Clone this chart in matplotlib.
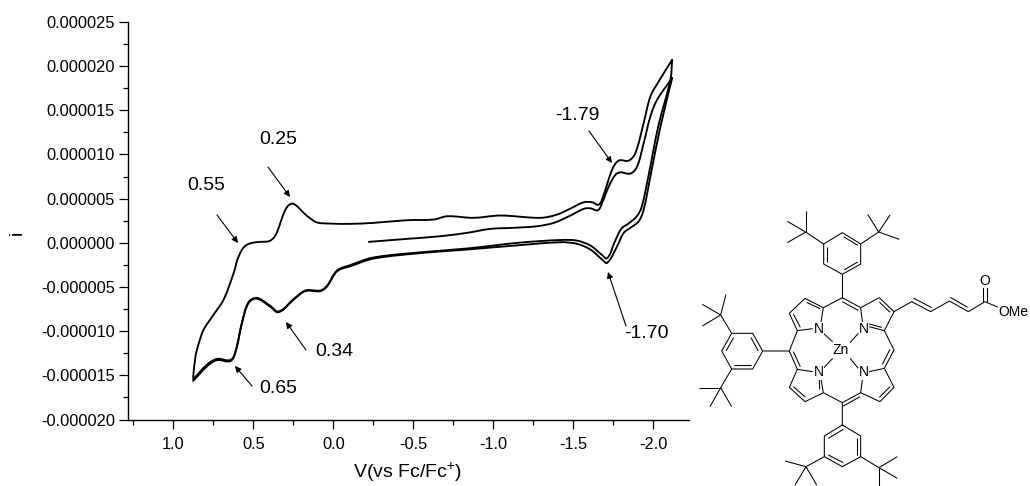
import matplotlib
matplotlib.use("Agg")
import matplotlib.pyplot as plt
from matplotlib.collections import LineCollection
from matplotlib.patches import PathPatch
from matplotlib.path import Path
from matplotlib.ticker import MultipleLocator, FormatStrFormatter
import numpy as np

plt.rcParams['font.family'] = ['Liberation Sans', 'DejaVu Sans']
plt.rcParams['mathtext.default'] = 'regular'
plt.rcParams['axes.unicode_minus'] = False

# first sweep, towards negative potential (V, uA)
v_first = [-0.221, -0.461, -0.669, -0.835, -0.981, -1.127, -1.273, -1.377, -1.481, -1.564, -1.606, -1.652,
           -1.679, -1.721, -1.763, -1.794, -1.856, -1.898, -1.939, -1.981, -2.023, -2.117]
i_first = [0.11, 0.45, 0.75, 1.13, 1.58, 1.70, 1.88, 2.26, 3.09, 3.85, 3.91, 3.69,
           4.52, 6.40, 7.72, 7.98, 7.84, 8.66, 11.31, 14.32, 16.21, 18.66]

# return sweep down to the positive limit
v_back = [-2.117, -2.044, -1.981, -1.939, -1.908, -1.856, -1.814, -1.773, -1.711, -1.679, -1.606, -1.521, -1.419,
          -1.086, -0.835, -0.564, -0.252, -0.106, -0.023, 0.039, 0.081, 0.175, 0.248, 0.342, 0.394, 0.477, 0.530,
          0.571, 0.613, 0.644, 0.727, 0.789, 0.877]
i_back = [18.66, 13.19, 7.53, 3.77, 2.44, 1.70, 1.13, -0.38, -2.26, -1.89, -0.76, -0.11, 0.07,
          -0.38, -0.76, -1.13, -1.78, -2.65, -3.21, -4.91, -5.47, -5.47, -6.41, -7.85, -7.24, -6.33, -6.79,
          -9.05, -12.44, -13.39, -13.28, -13.96, -15.65]

# second forward sweep, the upper trace
v_second = [0.877, 0.862, 0.838, 0.811, 0.748, 0.686, 0.623, 0.600, 0.571, 0.544, 0.508, 0.456, 0.404, 0.375,
            0.354, 0.327, 0.300, 0.275, 0.254, 0.225, 0.186, 0.144, 0.102, 0.019, -0.106, -0.250, -0.459, -0.627,
            -0.711, -0.875, -1.044, -1.294, -1.398, -1.481, -1.564, -1.617, -1.658, -1.689, -1.742, -1.783,
            -1.846, -1.888, -1.939, -1.981, -2.033, -2.117]
i_second = [-15.27, -12.83, -11.16, -9.81, -8.11, -6.41, -3.39, -1.89, -0.76, -0.25, 0.00, 0.11, 0.18, 0.54,
            1.13, 2.52, 3.77, 4.33, 4.44, 4.11, 3.39, 2.75, 2.30, 2.18, 2.15, 2.26, 2.56, 2.64,
            3.01, 2.83, 3.09, 2.83, 3.20, 3.88, 4.59, 4.59, 4.33, 5.46, 8.29, 9.31,
            9.31, 10.21, 13.60, 16.58, 18.28, 20.73]

# second return sweep
v_last = [-2.117, -2.106, -2.031, -1.969, -1.925, -1.894, -1.844, -1.800, -1.756, -1.711, -1.675, -1.606, -1.519,
          -1.419, -1.169, -0.835, -0.564, -0.250, -0.106, -0.023, 0.039, 0.081, 0.175, 0.248, 0.342, 0.394, 0.477,
          0.530, 0.571, 0.613, 0.644, 0.727, 0.789, 0.877]
i_last = [20.73, 18.47, 13.27, 7.61, 3.99, 2.97, 2.18, 1.62, 0.03, -1.72, -1.32, -0.31, 0.26,
          0.32, 0.03, -0.64, -1.04, -1.66, -2.51, -3.13, -4.83, -5.39, -5.39, -6.36, -7.77, -7.15, -6.24,
          -6.70, -8.96, -12.35, -13.26, -13.14, -13.77, -15.46]

# peak labels, with text centre and arrow ends in picture pixels
peak_labels = ['0.25', '0.55', '0.34', '0.65', '-1.79', '-1.70']
label_pos = [(278, 140), (206, 186), (334, 351), (278, 388), (577, 115), (646, 333)]
arrow_from = [(268, 167), (217, 215), (306, 350), (252, 386), (589, 131), (626, 326)]
arrow_to = [(290, 197), (238, 243), (286, 322), (235, 366), (612, 163), (608, 272)]

# molecule bonds, in coordinates of the drawing
bonds = [
    # top aryl
    [(457, 188), (512, 222), (512, 282), (457, 313), (401, 282), (401, 222), (457, 188)],
    [(411, 232), (411, 275)], [(462, 201), (503, 226)], [(462, 300), (503, 276)],
    [(401, 222), (347, 186)], [(347, 186), (347, 124)], [(347, 186), (292, 154)], [(347, 186), (292, 218)],
    [(512, 222), (566, 186)], [(566, 186), (533, 133)], [(566, 186), (600, 135)], [(566, 186), (628, 208)],
    [(457, 313), (457, 383)],
    # macrocycle
    [(400, 413), (457, 383), (512, 413)], [(457, 395), (505, 421)],
    [(392, 462), (400, 413), (345, 385), (298, 430), (322, 482), (368, 476)],
    [(350, 397), (390, 416)], [(310, 432), (331, 472)],
    [(518, 462), (512, 413), (568, 383), (612, 425), (583, 482), (537, 470)],
    [(568, 396), (600, 427)], [(575, 472), (537, 462)],
    [(583, 482), (612, 540), (583, 595), (537, 605)], [(600, 538), (577, 583)],
    [(583, 595), (612, 652), (570, 695), (512, 668), (518, 622)], [(600, 650), (568, 682)],
    [(512, 668), (457, 698), (400, 668)], [(510, 680), (460, 708)],
    [(392, 622), (400, 668), (345, 695), (298, 652), (322, 598), (368, 605)],
    [(346, 681), (310, 650)], [(388, 630), (389, 658)],
    [(322, 482), (298, 543), (322, 598)], [(310, 545), (331, 590)],
    [(400, 490), (428, 515)], [(505, 490), (480, 518)], [(400, 595), (428, 565)], [(505, 595), (480, 565)],
    # left aryl
    [(298, 543), (218, 543), (188, 490), (125, 490), (95, 543), (125, 597), (188, 597), (218, 543)],
    [(183, 503), (205, 543)], [(108, 543), (131, 503)], [(131, 585), (183, 585)],
    [(125, 490), (92, 435)], [(92, 435), (108, 373)], [(92, 435), (37, 403)], [(92, 435), (37, 468)],
    [(125, 597), (92, 653)], [(92, 653), (28, 653)], [(92, 653), (60, 710)], [(92, 653), (125, 710)],
    # bottom aryl
    [(457, 698), (457, 765), (512, 798), (512, 860), (457, 890), (403, 860), (403, 798), (457, 765)],
    [(460, 778), (415, 805)], [(500, 805), (500, 855)], [(415, 855), (460, 878)],
    [(403, 860), (348, 890)], [(348, 890), (285, 873)], [(348, 890), (315, 945)], [(348, 890), (380, 945)],
    [(512, 860), (567, 893)], [(567, 893), (622, 860)], [(567, 893), (622, 925)], [(567, 893), (567, 948)],
    # ester chain
    [(612, 425), (665, 395), (722, 425), (778, 393), (835, 425), (885, 395), (925, 412)],
    [(670, 384), (725, 413)], [(781, 382), (833, 412)],
    [(879, 395), (879, 347)], [(891, 395), (891, 347)],
]
atom_labels = ['N', 'N', 'N', 'N', 'Zn', 'O', 'OMe']
atom_pos = [(387, 478), (522, 478), (387, 607), (522, 607), (453, 540), (885, 333), (970, 427)]


def smooth_path(v, cur, ax):
    # bezier path through the read points, tangents worked out on screen
    pts = ax.transData.transform(np.column_stack([v, cur]))
    grad = np.gradient(pts, axis=0)
    grad = grad / np.linalg.norm(grad, axis=1, keepdims=True)
    verts = [pts[0]]
    codes = [Path.MOVETO]
    for k in range(len(pts) - 1):
        step = np.linalg.norm(pts[k + 1] - pts[k]) / 3
        verts += [pts[k] + grad[k] * step, pts[k + 1] - grad[k + 1] * step, pts[k + 1]]
        codes += [Path.CURVE4] * 3
    return Path(verts, codes)


fig = plt.figure(figsize=(10.3, 4.86), dpi=100)
ax = fig.add_axes([128 / 1030, (486 - 419.5) / 486, 561 / 1030, 397.5 / 486])

ax.set_xlim(1.284, -2.222)
ax.set_ylim(-0.00002, 0.000025)
ax.spines['top'].set_visible(False)
ax.spines['right'].set_visible(False)
ax.spines['left'].set_linewidth(1.0)
ax.spines['bottom'].set_linewidth(1.0)

scale = 1e-6
for v, cur in [(v_first, i_first), (v_back, i_back), (v_second, i_second), (v_last, i_last)]:
    path = smooth_path(v, [c * scale for c in cur], ax)
    ax.add_patch(PathPatch(path, transform=None, facecolor='none', edgecolor='black', lw=1.35,
                           joinstyle='round', capstyle='round'))

ax.xaxis.set_major_locator(MultipleLocator(0.5))
ax.xaxis.set_minor_locator(MultipleLocator(0.25))
ax.yaxis.set_major_locator(MultipleLocator(0.000005))
ax.yaxis.set_minor_locator(MultipleLocator(0.0000025))
ax.xaxis.set_major_formatter(FormatStrFormatter('%.1f'))
ax.yaxis.set_major_formatter(FormatStrFormatter('%.6f'))
ax.tick_params(which='major', length=6.5, width=0.9, labelsize=11.8, pad=3)
ax.tick_params(which='minor', length=3.5, width=0.9)
ax.tick_params(axis='x', which='major', pad=6)

fig.text(408 / 1030, 1 - 472 / 486, 'V(vs Fc/Fc$^{+}$)', ha='center', va='center', fontsize=14)
fig.text(17 / 1030, 1 - 233 / 486, 'i', rotation=90, ha='center', va='center', fontsize=14)

for label, pos, start, end in zip(peak_labels, label_pos, arrow_from, arrow_to):
    fig.text(pos[0] / 1030, 1 - pos[1] / 486, label, ha='center', va='center', fontsize=14)
    ax.annotate('', xy=(end[0], 486 - end[1]), xytext=(start[0], 486 - start[1]),
                xycoords='figure pixels', textcoords='figure pixels',
                arrowprops=dict(arrowstyle='-|>', color='black', lw=0.8, mutation_scale=9,
                                shrinkA=0, shrinkB=0))

# molecule on its own axes
mol = fig.add_axes([690 / 1030, 0, 340 / 1030, 316 / 486])
mol.set_xlim(0, 1020)
mol.set_ylim(948, 0)
mol.axis('off')
mol.add_collection(LineCollection(bonds, colors='black', linewidths=0.75))
for label, pos in zip(atom_labels, atom_pos):
    mol.text(pos[0], pos[1], label, ha='center', va='center', fontsize=10,
             bbox=dict(facecolor='white', edgecolor='none', pad=0.3))

fig.savefig('out.png', dpi=100)
